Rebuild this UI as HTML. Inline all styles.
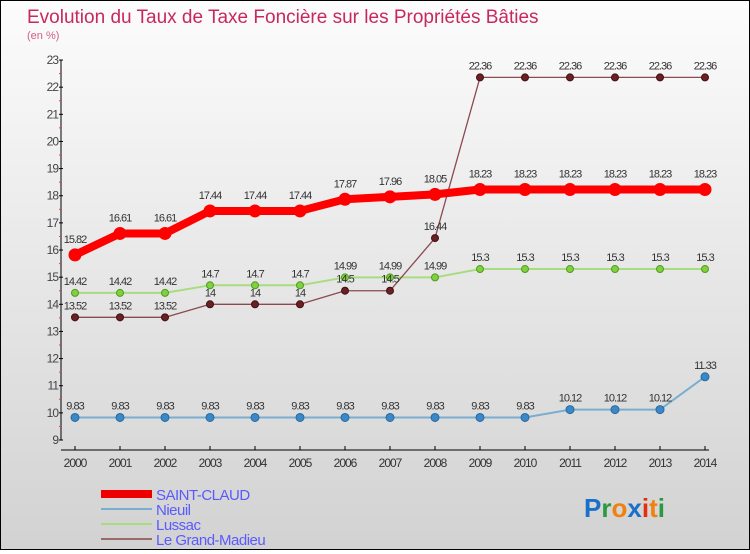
<!DOCTYPE html>
<html><head><meta charset="utf-8"><style>
body{margin:0;width:750px;height:550px;overflow:hidden}
#wrap{position:relative;width:748px;height:548px;border:1px solid #000;background:linear-gradient(#fcfcfc,#d2d2d2);font-family:"Liberation Sans",sans-serif}
</style></head><body>
<div id="wrap">
<svg id="chart" width="748" height="548"></svg>
</div>
<script>
const years=[2000,2001,2002,2003,2004,2005,2006,2007,2008,2009,2010,2011,2012,2013,2014];
const saintClaud=[15.82,16.61,16.61,17.44,17.44,17.44,17.87,17.96,18.05,18.23,18.23,18.23,18.23,18.23,18.23];
const nieuil=[9.83,9.83,9.83,9.83,9.83,9.83,9.83,9.83,9.83,9.83,9.83,10.12,10.12,10.12,11.33];
const lussac=[14.42,14.42,14.42,14.7,14.7,14.7,14.99,14.99,14.99,15.3,15.3,15.3,15.3,15.3,15.3];
const grandMadieu=[13.52,13.52,13.52,14,14,14,14.5,14.5,16.44,22.36,22.36,22.36,22.36,22.36,22.36];
const yTicks=[9,10,11,12,13,14,15,16,17,18,19,20,21,22,23];
const NS="http://www.w3.org/2000/svg";
const svg=document.getElementById('chart');
const X=i=>74+i*45, Y=v=>439-(v-9)*27.14;
function el(t,a,p){const e=document.createElementNS(NS,t);for(const k in a)e.setAttribute(k,a[k]);(p||svg).appendChild(e);return e;}
let t=el('text',{x:26,y:22,fill:'#c8285a','font-size':19});t.textContent='Evolution du Taux de Taxe Foncière sur les Propriétés Bâties';


t=el('text',{x:26,y:38,fill:'#d0608a','font-size':11});t.textContent='(en %)';


// axes
let a=el('line',{x1:60,y1:Y(23),x2:60,y2:Y(9),stroke:'#000'});


a=el('line',{x1:60,y1:449,x2:708,y2:449,stroke:'#000'});


yTicks.forEach(v=>{
 el('line',{x1:58,y1:Y(v),x2:62,y2:Y(v),stroke:'#000'});
 if(v<23)el('line',{x1:58,y1:Y(v+0.5),x2:60,y2:Y(v+0.5),stroke:'#f33'});
 const tx=el('text',{x:57,y:Y(v)+4,'text-anchor':'end','font-size':12,fill:'#444','letter-spacing':'-1'});tx.textContent=v;
 
 
});
years.forEach((yr,i)=>{
 el('line',{x1:X(i),y1:445,x2:X(i),y2:449,stroke:'#000'});
 const tx=el('text',{x:X(i),y:466,'text-anchor':'middle','font-size':12,fill:'#333','letter-spacing':'-1'});tx.textContent=yr;
 
 
});
function series(d,name,col,w,dot,dotStroke,r,labelOff){
 const g=el('g',{});
 
 
 const p=el('polyline',{points:d.map((v,i)=>X(i)+','+Y(v)).join(' '),fill:'none',stroke:col,'stroke-width':w,'stroke-linejoin':'round'},g);
 
 
 d.forEach((v,i)=>{
  const c=el('circle',{cx:X(i),cy:Y(v),r:r,fill:dot,stroke:dotStroke,'stroke-width':1},g);
  
  
  const tx=el('text',{x:X(i),y:Y(v)+labelOff,'text-anchor':'middle','font-size':11,fill:'#333','letter-spacing':'-1'},g);tx.textContent=v;
  
  
 });
}
series(nieuil,'nieuil','#7aaed0',2,'#3a88c8','#2a6a9a',4,-8);
series(lussac,'lussac','#a8dc80',2,'#80d040','#509a20',3.5,-8);
series(grandMadieu,'grand-madieu','#8a4a50',1.3,'#6a2024','#401010',3.5,-8);
series(saintClaud,'saint-claud','#f00',8,'#f00','#f00',6,-12);
// legend
const leg=[['SAINT-CLAUD','#e00',8],['Nieuil','#7aaed0',2],['Lussac','#a8dc80',2],['Le Grand-Madieu','#9a6a6a',2]];
leg.forEach((l,i)=>{
 const g=el('g',{});
 
 
 const y=493+i*15;
 el('line',{x1:100,y1:y,x2:151,y2:y,stroke:l[1],'stroke-width':l[2]},g);
 const tx=el('text',{x:155,y:y+6,'font-size':15,fill:'#5a5aff','letter-spacing':'-0.5'},g);tx.textContent=l[0];
});
const lg=el('text',{x:583,y:516,'font-size':26,'font-weight':'bold'});


[['P','#1a70c8'],['r','#2a9a40'],['o','#f08010'],['x','#1a70c8'],['i','#e03010'],['t','#f08010'],['i','#2a9a40']].forEach(c=>{const s=el('tspan',{fill:c[1]},lg);s.textContent=c[0];});
</script>
</body></html>
